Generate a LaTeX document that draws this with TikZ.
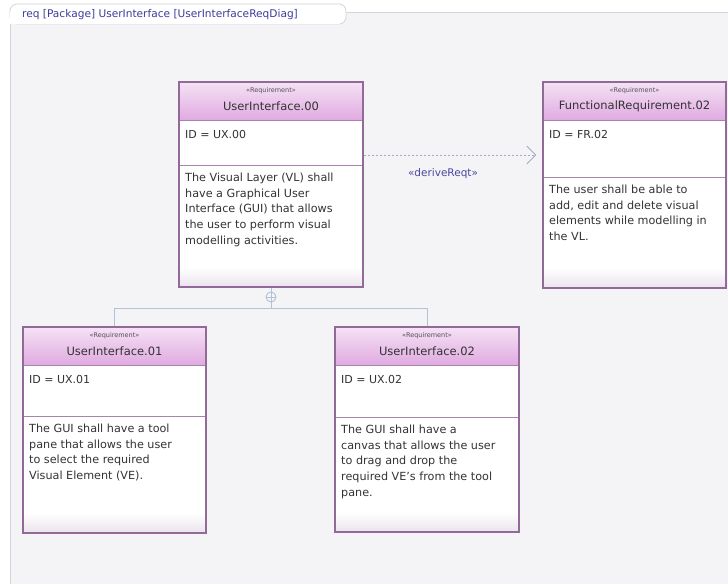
\documentclass[tikz,border=0pt]{standalone}
\usepackage{fontspec}
\setmainfont{DejaVu Sans}
\usetikzlibrary{arrows.meta,calc}

\definecolor{frameBg}{HTML}{F4F4F6}
\definecolor{frameLine}{HTML}{D4D4DA}
\definecolor{titleInk}{HTML}{3C3C9C}
\definecolor{hdTop}{HTML}{F5E2F5}
\definecolor{hdBot}{HTML}{E0AAE1}
\definecolor{boxLine}{HTML}{93699A}
\definecolor{sepLine}{HTML}{A884AC}
\definecolor{bodyInk}{HTML}{333333}
\definecolor{bodyFoot}{HTML}{EAE4EC}
\definecolor{linkLine}{HTML}{AFC3D9}
\definecolor{deriveLine}{HTML}{A2AAC6}
\definecolor{deriveInk}{HTML}{4848A0}

\tikzset{
  x=1pt, y=-1pt,
  reqframe/.style={draw=boxLine, line width=1.1pt, inner sep=0pt},
  stereo/.style={font=\fontsize{6.5}{7}\selectfont, text=bodyInk!85, inner sep=0pt},
  reqname/.style={font=\fontsize{11.5}{13}\selectfont, text=bodyInk, inner sep=0pt},
  idtext/.style={font=\fontsize{11}{13}\selectfont, text=bodyInk, anchor=west, inner sep=0pt},
  desc/.style={font=\fontsize{11.2}{15.6}\selectfont, text=bodyInk, anchor=north west,
    inner sep=0pt, align=left},
  link/.style={draw=linkLine, line width=0.9pt},
  derive/.style={draw=deriveLine, line width=1pt, dash pattern=on 2pt off 2pt,
    -{Straight Barb[length=9pt,width=18pt,line width=0.9pt]}, shorten >=6pt},
  stereoLabel/.style={font=\fontsize{10.5}{12}\selectfont, text=deriveInk, inner sep=0pt},
  titleText/.style={font=\fontsize{10.6}{12}\selectfont, text=titleInk, anchor=west, inner sep=0pt},
}

% requirement block: name, left, top, right, bottom, id divider, title, id, text
\newcommand\reqblock[9]{%
  \fill[top color=hdTop, bottom color=hdBot] (#2,#3) rectangle (#4,#3+38);
  \fill[white] (#2,#3+38) rectangle (#4,#5);
  \fill[top color=white, bottom color=bodyFoot] (#2,#5-20) rectangle (#4,#5);
  \draw[sepLine, line width=1pt] (#2,#3+38) -- (#4,#3+38);
  \draw[sepLine, line width=0.9pt] (#2,#6) -- (#4,#6);
  \node[reqframe, minimum width={(#4-#2)*1pt}, minimum height={(#5-#3)*1pt}]
    (#1) at ({(#2+#4)/2},{(#3+#5)/2}) {};
  \node[stereo] (#1-st) at ({(#2+#4)/2},#3+9) {«Requirement»};
  \node[reqname] (#1-nm) at ({(#2+#4)/2},#3+24) {#7};
  \node[idtext] (#1-id) at (#2+6,#3+52) {ID = #8};
  \node[desc] (#1-tx) at (#2+6,#6+8) {#9};
}

\begin{document}
\begin{tikzpicture}
\useasboundingbox (0,0) rectangle (728,584);
\fill[white] (0,0) rectangle (728,584);

% diagram frame and its name tab
\fill[frameBg] (10,12) rectangle (728,584);
\draw[frameLine, line width=0.8pt] (10,584) -- (10,12) -- (728,12);
\draw[frameLine, line width=0.8pt, fill=white, rounded corners=7pt]
  (10,24) -- (10,4) -- (346,4) -- (346,24) -- cycle;
\fill[white] (10.4,12.4) rectangle (340,23.6);
\node[titleText] (title) at (22,15) {req [Package] UserInterface [UserInterfaceReqDiag]};

% requirements
\reqblock{ui00}{179}{82}{363}{287}{165}{UserInterface.00}{UX.00}
  {The Visual Layer (VL) shall\\have a Graphical User\\Interface (GUI) that allows\\the user to perform visual\\modelling activities.}
\reqblock{fr02}{543}{82}{726}{288}{177}{FunctionalRequirement.02}{FR.02}
  {The user shall be able to\\add, edit and delete visual\\elements while modelling in\\the VL.}
\reqblock{ui01}{23}{327}{206}{533}{416}{UserInterface.01}{UX.01}
  {The GUI shall have a tool\\pane that allows the user\\to select the required\\Visual Element (VE).}
\reqblock{ui02}{335}{327}{519}{532}{417}{UserInterface.02}{UX.02}
  {The GUI shall have a\\canvas that allows the user\\to drag and drop the\\required VE's from the tool\\pane.}

% containment
\coordinate (bus) at (0,308);
\node[circle, draw=linkLine, line width=0.9pt, minimum size=10pt, inner sep=0pt]
  (agg) at (ui00.south |- 0,297) {};
\draw[link] (agg.north) -- (agg.south) (agg.west) -- (agg.east);
\draw[link] (ui00.south) -- (agg.north);
\draw[link] (agg.south) -- (agg.south |- bus);
\draw[link] (ui01.north) -- (ui01.north |- bus) -- (ui02.north |- bus) -- (ui02.north);

% derivation
\coordinate (dv) at (0,155);
\draw[derive] (ui00.east |- dv) -- (fr02.west |- dv);
\node[stereoLabel] (dvlabel) at (443,174) {«deriveReqt»};
\end{tikzpicture}
\end{document}
